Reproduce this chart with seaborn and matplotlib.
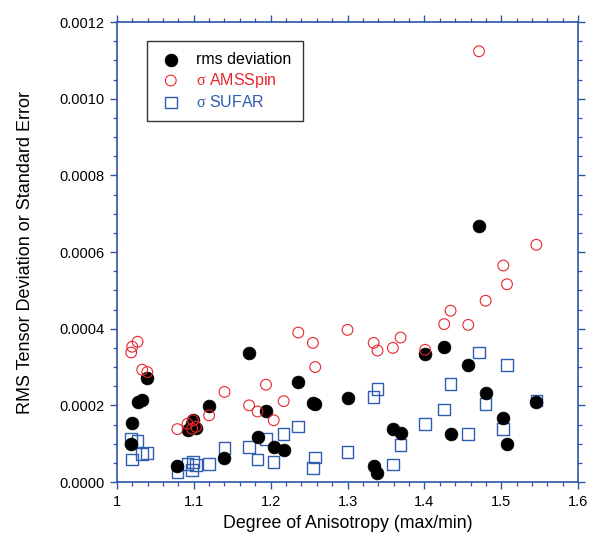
import matplotlib
matplotlib.use("Agg")
import matplotlib.pyplot as plt
import seaborn as sns
import pandas as pd
from matplotlib.ticker import MultipleLocator, FormatStrFormatter

anisotropy = [1.0187, 1.0200, 1.027, 1.033, 1.0396, 1.0787, 1.092, 1.098, 1.099, 1.103,
              1.120, 1.140, 1.172, 1.183, 1.194, 1.204, 1.217, 1.236, 1.255, 1.258,
              1.300, 1.334, 1.339, 1.359, 1.369, 1.401, 1.4257, 1.434, 1.457, 1.471,
              1.4796, 1.5026, 1.5074, 1.5456]
rms_deviation = [0.000100, 0.000154, 0.000210, 0.000213, 0.000272, 0.0000424, 0.000135, 0.000151,
                 0.000163, 0.000142, 0.000198, 0.0000615, 0.000337, 0.000118, 0.000184, 0.0000917,
                 0.0000831, 0.000261, 0.000206, 0.000203, 0.000220, 0.0000424, 0.0000226, 0.000138,
                 0.000128, 0.000334, 0.000353, 0.000124, 0.000306, 0.000668, 0.000233, 0.000167,
                 0.000100, 0.000208]
sigma_amsspin = [0.000338, 0.000353, 0.000366, 0.000293, 0.000287, 0.000138, 0.000152, 0.000139,
                 0.000161, 0.000144, 0.000174, 0.000235, 0.000200, 0.000184, 0.000254, 0.000161,
                 0.000211, 0.000390, 0.000363, 0.000300, 0.000397, 0.000363, 0.000343, 0.000350,
                 0.000377, 0.000345, 0.000412, 0.000447, 0.000410, 0.001124, 0.000473, 0.000565,
                 0.000516, 0.000619]
sigma_sufar = [0.000113, 0.0000589, 0.000107, 0.0000727, 0.0000762, 0.0000268, 0.0000468, 0.0000312,
               0.0000528, 0.0000442, 0.0000468, 0.0000891, 0.0000917, 0.0000589, 0.000113, 0.0000528,
               0.000126, 0.000145, 0.0000372, 0.0000641, 0.0000787, 0.000222, 0.000243, 0.0000459,
               0.0000961, 0.000152, 0.000189, 0.000255, 0.000125, 0.000338, 0.000203, 0.000139,
               0.000306, 0.000213]

x_ticks = [1.0, 1.1, 1.2, 1.3, 1.4, 1.5, 1.6]
y_ticks = [0.0, 0.0002, 0.0004, 0.0006, 0.0008, 0.0010, 0.0012]
x_label = "Degree of Anisotropy (max/min)"
y_label = "RMS Tensor Deviation or Standard Error"
legend_labels = ["rms deviation", r"$\mathrm{\sigma}$ AMSSpin", r"$\mathrm{\sigma}$ SUFAR"]

df = pd.DataFrame({"x": anisotropy, "rms": rms_deviation,
                   "ams": sigma_amsspin, "sufar": sigma_sufar})

sns.set_theme(style="white")
plt.rcParams["font.family"] = ["Liberation Sans", "DejaVu Sans"]
plt.rcParams["mathtext.fontset"] = "custom"
plt.rcParams["mathtext.rm"] = "Liberation Serif"

AXC = "#2f55a8"
RED = "#e8262e"
BLUE = "#2f5db0"

fig, ax = plt.subplots(figsize=(5.9, 5.4), dpi=100)
fig.subplots_adjust(left=0.198, right=0.980, top=0.959, bottom=0.1074)

sns.scatterplot(data=df, x="x", y="sufar", ax=ax, marker="s", s=70,
                facecolor="none", edgecolor=BLUE, linewidth=1.0, label=legend_labels[2], zorder=2)
sns.scatterplot(data=df, x="x", y="rms", ax=ax, marker="o", s=85,
                color="black", edgecolor="black", linewidth=0.5, label=legend_labels[0], zorder=3)
sns.scatterplot(data=df, x="x", y="ams", ax=ax, marker="o", s=60,
                facecolor="none", edgecolor=RED, linewidth=0.8, label=legend_labels[1], zorder=4)

ax.set_xlim(1.0, 1.6)
ax.set_ylim(0.0, 0.0012)
ax.set_xticks(x_ticks)
ax.set_yticks(y_ticks)
ax.xaxis.set_major_formatter(FormatStrFormatter("%g"))
ax.yaxis.set_major_formatter(FormatStrFormatter("%.4f"))
ax.xaxis.set_minor_locator(MultipleLocator(0.02))
ax.yaxis.set_minor_locator(MultipleLocator(0.00005))

for sp in ax.spines.values():
    sp.set_color(AXC)
    sp.set_linewidth(1.2)
    sp.set_visible(True)

ax.tick_params(which="both", direction="out", color=AXC, top=True, right=True,
               bottom=True, left=True, labeltop=False, labelright=False)
ax.tick_params(which="major", length=5, width=1.0, labelsize=10.5, labelcolor="black", pad=4)
ax.tick_params(which="minor", length=3, width=0.9)

ax.set_xlabel(x_label, fontsize=12.8, color="black", labelpad=5)
ax.set_ylabel(y_label, fontsize=13, color="black", labelpad=18)

handles, labels = ax.get_legend_handles_labels()
order = [labels.index(l) for l in legend_labels]
leg = ax.legend([handles[i] for i in order], [labels[i] for i in order],
                loc="upper left", bbox_to_anchor=(0.065, 0.96), frameon=True,
                fancybox=False, edgecolor="black", fontsize=11.5, borderpad=0.7,
                labelspacing=0.25, handlelength=1.6, handletextpad=0.8, borderaxespad=0.0)
leg.get_frame().set_linewidth(1.0)
for txt, c in zip(leg.get_texts(), ["black", RED, BLUE]):
    txt.set_color(c)

fig.savefig("out.png", dpi=100)
